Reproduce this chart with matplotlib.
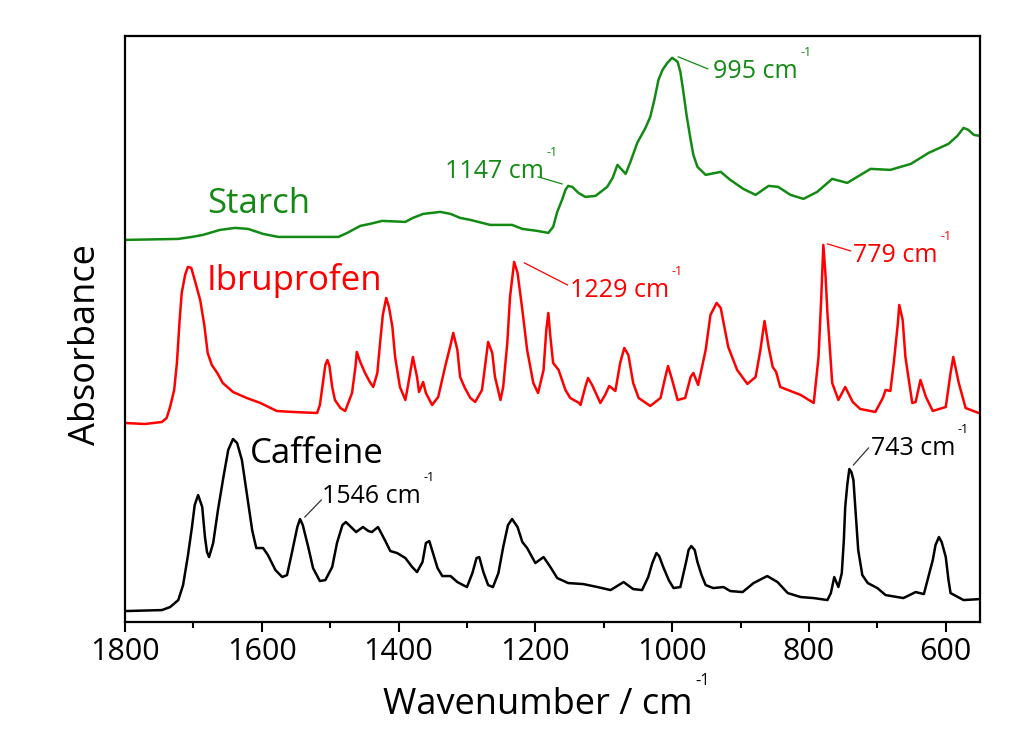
import matplotlib
matplotlib.use("Agg")
import matplotlib.pyplot as plt
from matplotlib.ticker import MultipleLocator

plt.rcParams['font.family'] = ['Open Sans', 'DejaVu Sans']

# wavenumber (cm-1) and absorbance (a.u., relative to each trace's own offset)
caffeine_wn = [1800, 1746, 1734, 1722, 1715, 1708, 1702, 1698, 1693, 1687, 1683, 1680, 1677,
               1671, 1664, 1656, 1649, 1642, 1636, 1629, 1622, 1614, 1608, 1598, 1591, 1580,
               1570, 1563, 1556, 1548, 1544, 1540, 1532, 1525, 1515, 1507, 1497, 1490, 1482,
               1477, 1468, 1462, 1452, 1444, 1439, 1430, 1420, 1412, 1402, 1390, 1380, 1373,
               1365, 1360, 1355, 1351, 1343, 1336, 1324, 1314, 1300, 1292, 1286, 1282, 1276,
               1269, 1262, 1254, 1247, 1240, 1234, 1226, 1219, 1212, 1200, 1188, 1178, 1168,
               1152, 1130, 1109, 1090, 1071, 1057, 1044, 1035, 1029, 1023, 1019, 1013, 1005,
               998, 988, 979, 976, 972, 967, 963, 957, 951, 940, 925, 915, 897, 881, 861, 846,
               831, 812, 793, 773, 768, 763, 757, 752, 749, 747, 744, 741, 738, 735, 732, 728,
               722, 714, 700, 688, 662, 644, 632, 619, 615, 610, 606, 600, 596, 593, 574, 552,
               550]
caffeine_ab = [0.01, 0.02, 0.05, 0.12, 0.27, 0.56, 0.85, 1.07, 1.17, 1.05, 0.75, 0.60, 0.55,
               0.69, 1.02, 1.35, 1.62, 1.73, 1.69, 1.52, 1.19, 0.82, 0.64, 0.64, 0.57, 0.42,
               0.35, 0.37, 0.59, 0.85, 0.93, 0.87, 0.65, 0.44, 0.31, 0.32, 0.45, 0.69, 0.87,
               0.90, 0.84, 0.80, 0.85, 0.81, 0.80, 0.85, 0.72, 0.61, 0.59, 0.54, 0.45, 0.40,
               0.50, 0.69, 0.71, 0.62, 0.44, 0.36, 0.36, 0.30, 0.25, 0.39, 0.54, 0.55, 0.40,
               0.27, 0.25, 0.39, 0.65, 0.87, 0.93, 0.85, 0.70, 0.64, 0.49, 0.55, 0.45, 0.34,
               0.29, 0.28, 0.25, 0.22, 0.30, 0.23, 0.22, 0.35, 0.49, 0.59, 0.56, 0.45, 0.32,
               0.24, 0.25, 0.52, 0.62, 0.66, 0.62, 0.50, 0.37, 0.27, 0.24, 0.25, 0.21, 0.20,
               0.29, 0.36, 0.30, 0.19, 0.15, 0.14, 0.12, 0.19, 0.35, 0.25, 0.39, 0.72, 1.05,
               1.27, 1.43, 1.40, 1.32, 1.02, 0.62, 0.37, 0.29, 0.24, 0.17, 0.14, 0.20, 0.18,
               0.52, 0.67, 0.75, 0.70, 0.55, 0.32, 0.19, 0.12, 0.13, 0.13]

ibuprofen_wn = [1800, 1771, 1746, 1739, 1734, 1728, 1724, 1720, 1717, 1712, 1708, 1703, 1698,
                1690, 1684, 1679, 1673, 1665, 1657, 1642, 1622, 1602, 1578, 1554, 1519, 1515,
                1512, 1507, 1504, 1501, 1497, 1493, 1485, 1478, 1468, 1463, 1461, 1456, 1449,
                1442, 1437, 1431, 1427, 1423, 1418, 1414, 1409, 1405, 1398, 1390, 1384, 1379,
                1373, 1370, 1364, 1360, 1351, 1342, 1332, 1324, 1320, 1314, 1310, 1303, 1295,
                1288, 1278, 1273, 1269, 1263, 1259, 1251, 1247, 1241, 1237, 1231, 1226, 1219,
                1212, 1203, 1196, 1188, 1184, 1181, 1178, 1174, 1166, 1156, 1149, 1136, 1134,
                1127, 1123, 1117, 1105, 1098, 1092, 1083, 1076, 1070, 1064, 1057, 1049, 1032,
                1017, 1010, 1006, 1000, 992, 981, 973, 969, 962, 951, 944, 935, 929, 918, 905,
                890, 878, 871, 865, 859, 853, 848, 842, 823, 812, 793, 786, 782, 779, 776, 773,
                766, 757, 747, 736, 725, 703, 692, 688, 681, 676, 670, 668, 663, 659, 649, 644,
                637, 629, 619, 600, 593, 589, 581, 571, 552, 550]
ibuprofen_ab = [-0.01, -0.02, 0.00, 0.04, 0.15, 0.32, 0.59, 1.02, 1.29, 1.47, 1.55, 1.54, 1.42,
                1.22, 0.97, 0.69, 0.57, 0.49, 0.39, 0.30, 0.24, 0.19, 0.11, 0.10, 0.09, 0.17,
                0.32, 0.57, 0.62, 0.56, 0.35, 0.22, 0.14, 0.11, 0.29, 0.55, 0.70, 0.60, 0.49,
                0.40, 0.35, 0.49, 0.79, 1.07, 1.24, 1.15, 0.95, 0.65, 0.35, 0.22, 0.45, 0.65,
                0.45, 0.30, 0.40, 0.29, 0.17, 0.25, 0.55, 0.77, 0.89, 0.72, 0.45, 0.34, 0.24,
                0.20, 0.32, 0.59, 0.80, 0.69, 0.45, 0.22, 0.35, 0.79, 1.25, 1.60, 1.49, 1.12,
                0.72, 0.39, 0.29, 0.52, 0.92, 1.09, 0.85, 0.59, 0.52, 0.32, 0.24, 0.19, 0.17,
                0.35, 0.44, 0.37, 0.19, 0.27, 0.36, 0.31, 0.59, 0.74, 0.67, 0.39, 0.24, 0.16,
                0.24, 0.45, 0.56, 0.42, 0.22, 0.24, 0.45, 0.49, 0.37, 0.72, 1.07, 1.19, 1.14,
                0.75, 0.52, 0.38, 0.45, 0.72, 1.01, 0.75, 0.55, 0.50, 0.35, 0.30, 0.27, 0.19,
                0.65, 1.25, 1.77, 1.49, 1.09, 0.39, 0.22, 0.35, 0.20, 0.13, 0.10, 0.24, 0.32,
                0.31, 0.59, 0.99, 1.17, 1.02, 0.65, 0.19, 0.20, 0.42, 0.25, 0.11, 0.15, 0.49,
                0.65, 0.39, 0.14, 0.09, 0.09]

starch_wn = [1800, 1722, 1702, 1686, 1661, 1639, 1620, 1598, 1576, 1488, 1475, 1456, 1442,
             1424, 1390, 1379, 1364, 1339, 1324, 1310, 1295, 1266, 1234, 1219, 1197, 1181,
             1174, 1168, 1161, 1156, 1152, 1146, 1137, 1127, 1112, 1095, 1087, 1080, 1076,
             1068, 1061, 1051, 1039, 1032, 1026, 1020, 1014, 1007, 1000, 992, 988, 984, 979,
             973, 969, 963, 951, 929, 915, 896, 878, 859, 845, 827, 808, 788, 766, 744, 710,
             681, 651, 625, 596, 583, 574, 567, 559, 551]
starch_ab = [0.02, 0.03, 0.05, 0.07, 0.12, 0.14, 0.13, 0.08, 0.05, 0.05, 0.09, 0.16, 0.18,
             0.21, 0.20, 0.24, 0.28, 0.30, 0.28, 0.24, 0.22, 0.17, 0.17, 0.13, 0.11, 0.09,
             0.15, 0.30, 0.42, 0.52, 0.56, 0.55, 0.49, 0.45, 0.46, 0.55, 0.64, 0.77, 0.74,
             0.68, 0.80, 0.99, 1.14, 1.25, 1.42, 1.62, 1.72, 1.79, 1.84, 1.80, 1.70, 1.52,
             1.27, 1.02, 0.87, 0.75, 0.67, 0.70, 0.62, 0.53, 0.47, 0.56, 0.55, 0.47, 0.43,
             0.50, 0.63, 0.59, 0.73, 0.72, 0.78, 0.89, 0.98, 1.06, 1.14, 1.12, 1.07, 1.06]

offsets = {'Caffeine': 0.1, 'Ibruprofen': 2.0, 'Starch': 3.8}
colors = {'Caffeine': 'black', 'Ibruprofen': '#ff0000', 'Starch': '#138a13'}

# sample name labels: (wavenumber, absorbance)
name_pos = {'Starch': (1680, 4.09), 'Ibruprofen': (1680, 3.32), 'Caffeine': (1617, 1.59)}

# peak labels: text, colour key, text position, leader start, leader end
peak_labels = [
    ('1147 cm', 'Starch', (1332, 4.44), (1161, 4.38), (1196, 4.45)),
    ('995 cm', 'Starch', (940, 5.44), (991, 5.65), (948, 5.53)),
    ('1229 cm', 'Ibruprofen', (1150, 3.25), (1216, 3.59), (1153, 3.37)),
    ('779 cm', 'Ibruprofen', (735, 3.60), (773, 3.78), (739, 3.71)),
    ('1546 cm', 'Caffeine', (1512, 1.19), (1537, 1.05), (1513, 1.22)),
    ('743 cm', 'Caffeine', (710, 1.67), (735, 1.57), (713, 1.74)),
]

fig = plt.figure(figsize=(10.24, 7.31), dpi=100)
ax = fig.add_axes([0.122, 0.149, 0.835, 0.802])

spectra = {'Caffeine': (caffeine_wn, caffeine_ab),
           'Ibruprofen': (ibuprofen_wn, ibuprofen_ab),
           'Starch': (starch_wn, starch_ab)}

for name, (wn, ab) in spectra.items():
    ax.plot(wn, [a + offsets[name] for a in ab], color=colors[name], lw=1.8,
            solid_joinstyle='round')
    x, y = name_pos[name]
    ax.text(x, y, name, color=colors[name], fontsize=25, va='baseline', ha='left')

for txt, key, tpos, p0, p1 in peak_labels:
    c = colors[key]
    if key == 'Caffeine':
        c = '#333333'
    ax.plot([p0[0], p1[0]], [p0[1], p1[1]], color=c, lw=0.9)
    t = ax.text(tpos[0], tpos[1], txt, color=colors[key], fontsize=18,
                va='baseline', ha='left')
    ax.annotate('-1', xy=(1, 1), xycoords=t, xytext=(2, 0), textcoords='offset points',
                color=colors[key], fontsize=9, va='bottom', ha='left')

ax.set_xlim(1800, 550)
ax.set_ylim(0, 5.86)
ax.xaxis.set_major_locator(MultipleLocator(200))
ax.xaxis.set_minor_locator(MultipleLocator(100))
ax.set_yticks([])
ax.tick_params(axis='x', which='major', direction='out', length=7, width=1.5,
               labelsize=22, pad=4)
ax.tick_params(axis='x', which='minor', direction='out', length=4, width=1.5)
for s in ax.spines.values():
    s.set_linewidth(1.6)

xl = ax.text(0.302, -0.157, 'Wavenumber / cm', transform=ax.transAxes, fontsize=26,
             ha='left', va='baseline')
ax.annotate('-1', xy=(1, 1), xycoords=xl, xytext=(2, -1), textcoords='offset points',
            fontsize=12, va='bottom', ha='left')
ax.text(-0.046, 0.473, 'Absorbance', transform=ax.transAxes, fontsize=26,
        rotation=90, ha='center', va='center')

fig.savefig('out.png', dpi=100)
